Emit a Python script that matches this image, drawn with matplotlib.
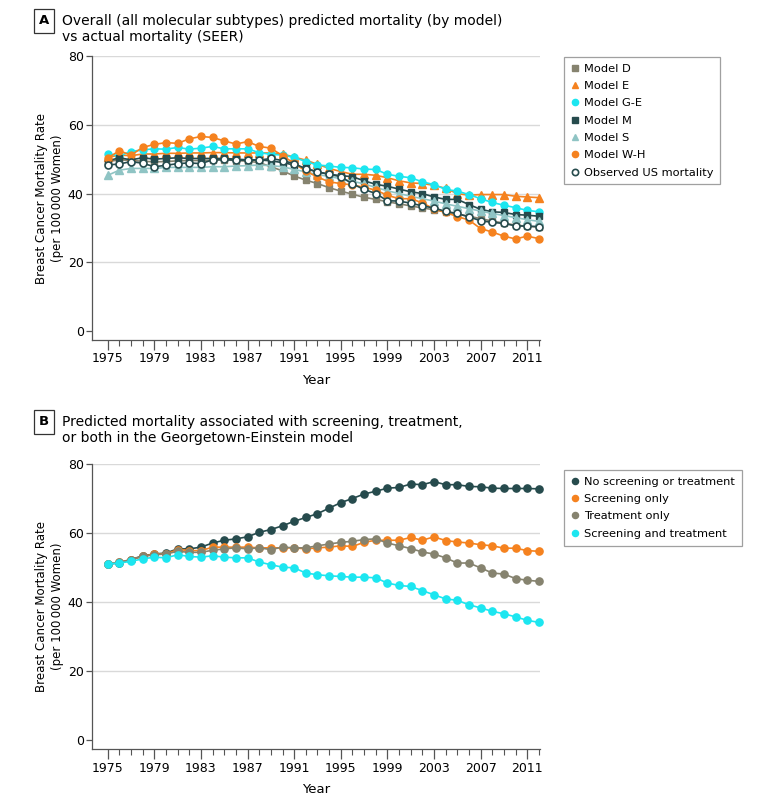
import numpy as np
import matplotlib
matplotlib.use("Agg")
import matplotlib.pyplot as plt
from matplotlib.ticker import FixedLocator

plt.rcParams['font.family'] = ['Liberation Sans Narrow', 'DejaVu Sans']

years = list(range(1975, 2013))

# Panel A: predicted mortality by model vs observed (per 100 000 women)
model_d = [49.3, 49.8, 49.6, 49.4, 49.2, 49.3, 49.5, 49.6, 49.6, 49.7, 49.8, 49.6, 49.4, 49.0,
           47.8, 46.6, 45.1, 43.9, 42.9, 41.7, 40.7, 39.8, 38.9, 38.3, 37.6, 37.0, 36.4, 35.8,
           35.3, 34.6, 34.0, 33.4, 32.7, 32.0, 31.4, 30.8, 30.5, 30.2]
model_e = [50.5, 51.2, 51.0, 51.5, 51.5, 51.7, 51.7, 51.8, 51.8, 51.9, 51.9, 51.8, 51.8, 51.8,
           51.8, 51.5, 50.6, 49.7, 48.5, 47.3, 46.4, 45.6, 45.6, 45.3, 44.6, 43.7, 43.1, 42.9,
           42.4, 41.5, 40.0, 39.5, 39.7, 39.7, 39.7, 39.2, 39.0, 38.8]
model_ge = [51.5, 51.0, 52.2, 52.7, 53.0, 52.9, 53.4, 52.9, 53.2, 53.7, 53.0, 53.0, 53.0, 51.9,
            51.4, 51.2, 50.5, 49.3, 48.3, 48.0, 47.6, 47.5, 47.1, 47.0, 45.6, 45.0, 44.6, 43.4,
            42.6, 41.2, 40.7, 39.7, 38.5, 37.4, 36.6, 35.9, 35.1, 34.7]
model_m = [49.5, 50.4, 49.8, 50.4, 50.0, 50.2, 50.4, 50.2, 50.2, 50.2, 50.2, 50.0, 49.8, 49.8,
           49.5, 49.0, 48.3, 47.3, 46.3, 45.6, 45.2, 44.9, 43.7, 42.7, 42.1, 41.3, 40.5, 40.0,
           39.0, 38.3, 38.3, 36.8, 35.4, 34.7, 34.5, 33.9, 33.7, 33.4]
model_s = [45.3, 46.8, 47.3, 47.3, 47.3, 47.6, 47.6, 47.6, 47.6, 47.8, 47.8, 48.0, 48.1, 48.3,
           48.1, 47.8, 47.0, 46.3, 45.5, 45.0, 44.3, 43.6, 42.8, 41.8, 40.8, 40.0, 39.2, 38.5,
           37.8, 37.0, 36.3, 35.6, 34.9, 34.2, 33.6, 33.0, 32.4, 31.9]
model_wh = [50.4, 52.4, 51.2, 53.4, 54.3, 54.8, 54.6, 55.9, 56.6, 56.3, 55.3, 54.4, 55.1, 53.7,
            53.2, 51.0, 48.8, 46.5, 44.8, 43.4, 42.9, 42.5, 41.8, 41.0, 39.5, 38.5, 38.5, 37.3,
            35.5, 34.5, 33.3, 32.3, 29.8, 28.8, 27.6, 26.8, 27.6, 26.9]
observed = [48.3, 48.6, 49.3, 48.8, 47.8, 48.2, 48.7, 48.9, 48.7, 49.8, 49.9, 49.7, 49.7, 49.7,
            50.2, 49.6, 48.7, 47.2, 46.3, 45.6, 44.9, 42.8, 41.2, 40.0, 37.9, 37.8, 37.2, 36.4,
            35.8, 34.8, 34.2, 33.2, 32.1, 31.6, 31.3, 30.6, 30.5, 30.4]

# Panel B: Georgetown-Einstein model scenarios
no_screen_treat = [51.0, 51.3, 52.3, 53.4, 53.9, 54.2, 55.4, 55.4, 55.9, 57.1, 57.9, 58.3, 58.9,
                   60.2, 61.0, 62.1, 63.4, 64.5, 65.6, 67.2, 68.8, 70.0, 71.3, 72.1, 73.0, 73.2,
                   74.2, 74.0, 74.9, 74.0, 74.0, 73.5, 73.4, 73.0, 72.9, 72.9, 72.9, 72.8]
screen_only = [51.0, 51.5, 52.3, 53.2, 53.9, 53.9, 55.2, 54.9, 54.9, 55.9, 55.9, 55.9, 55.9,
               55.7, 55.7, 55.7, 55.7, 55.4, 55.7, 55.9, 56.3, 56.1, 57.3, 57.9, 57.9, 57.9,
               58.7, 57.9, 58.9, 57.8, 57.4, 57.1, 56.6, 56.3, 55.6, 55.6, 54.9, 54.7]
treat_only = [51.0, 51.5, 52.3, 53.2, 53.7, 53.9, 54.7, 54.4, 54.4, 55.0, 55.4, 55.7, 55.4,
              55.7, 55.2, 55.9, 55.7, 55.7, 56.3, 56.8, 57.3, 57.6, 58.1, 58.3, 57.1, 56.3,
              55.5, 54.5, 53.9, 52.8, 51.3, 51.3, 49.9, 48.4, 48.1, 46.8, 46.3, 46.0]
screen_and_treat = [51.0, 51.3, 51.8, 52.5, 53.0, 52.8, 53.7, 53.2, 53.0, 53.4, 53.0, 52.8, 52.8,
                    51.6, 50.8, 50.1, 49.9, 48.4, 47.9, 47.6, 47.4, 47.2, 47.2, 47.0, 45.5, 44.8,
                    44.5, 43.3, 42.1, 40.9, 40.5, 39.2, 38.3, 37.3, 36.6, 35.7, 34.7, 34.1]

DARK = "#264b4d"
ORANGE = "#f5821f"
CYAN = "#1ce6f0"
GRAY = "#86836f"
TEAL = "#8fc4c4"


def style_axes(ax):
    ax.set_xlim(1973.65, 2012.1)
    ax.set_ylim(-2.6, 80)
    ax.spines['top'].set_visible(False)
    ax.spines['right'].set_visible(False)
    for s in ('left', 'bottom'):
        ax.spines[s].set_color("#555555")
        ax.spines[s].set_linewidth(0.9)
    ax.xaxis.set_major_locator(FixedLocator(list(range(1975, 2012, 4))))
    ax.xaxis.set_minor_locator(FixedLocator(years))
    ax.yaxis.set_major_locator(FixedLocator([0, 20, 40, 60, 80]))
    ax.tick_params(axis='x', which='major', length=7, width=0.9, color="#555555", labelsize=9, pad=2)
    ax.tick_params(axis='x', which='minor', length=4, width=0.8, color="#555555")
    ax.tick_params(axis='y', which='major', length=4, width=0.9, color="#555555", labelsize=9, pad=2)
    for g in (20, 40, 60, 80):
        ax.axhline(g, color="#d9d9d9", lw=1.0, zorder=0)
    ax.set_xlabel("Year", fontsize=9.5, labelpad=6)
    ax.set_ylabel("Breast Cancer Mortality Rate\n(per 100\u2009000 Women)", fontsize=8.5, labelpad=3,
                  linespacing=1.2)


def panel_title(fig, ytop, letter, text):
    fig.text(44 / 780, 1 - (ytop + 9) / 809, letter, fontsize=9.5, fontweight='bold',
             ha='center', va='center',
             bbox=dict(boxstyle='square,pad=0.4', fc='white', ec='#333333', lw=0.9))
    fig.text(62 / 780, 1 - (ytop + 1.5) / 809, text, fontsize=10, ha='left', va='top',
             linespacing=1.2)


def finish_legend(leg):
    leg.get_frame().set_linewidth(0.9)
    for line in leg.get_lines():
        line.set_linestyle('None')


leg_kw = dict(loc='upper left', fontsize=8.2, frameon=True, fancybox=False,
              edgecolor="#888888", handlelength=0.7, handletextpad=0.45,
              labelspacing=0.64, borderpad=0.6, borderaxespad=0)

fig = plt.figure(figsize=(7.8, 8.09), dpi=100)

# ---- Panel A
axA = fig.add_axes([92 / 780, 1 - 340 / 809, 448 / 780, 284 / 809])
style_axes(axA)
lw = 1.2
axA.plot(years, model_d, color=GRAY, marker='s', ms=4.5, lw=lw, label="Model D", clip_on=False)
axA.plot(years, model_e, color=ORANGE, marker='^', ms=5.5, lw=lw, label="Model E", clip_on=False)
axA.plot(years, model_ge, color=CYAN, marker='o', ms=5, lw=lw, label="Model G-E", clip_on=False)
axA.plot(years, model_m, color=DARK, marker='s', ms=4.5, lw=lw, label="Model M", clip_on=False)
axA.plot(years, model_s, color=TEAL, marker='^', ms=5.5, lw=lw, label="Model S", clip_on=False)
axA.plot(years, model_wh, color=ORANGE, marker='o', ms=5, lw=lw, label="Model W-H", clip_on=False)
axA.plot(years, observed, color=DARK, marker='o', ms=5, mfc='white', mec=DARK, mew=1.2,
         lw=lw, label="Observed US mortality", clip_on=False)
legA = fig.legend(*axA.get_legend_handles_labels(),
                  bbox_to_anchor=(564 / 780, 1 - 57 / 809), markerscale=0.9, **leg_kw)
finish_legend(legA)

panel_title(fig, 12, "A", "Overall (all molecular subtypes) predicted mortality (by model)\nvs actual mortality (SEER)")

# ---- Panel B
axB = fig.add_axes([92 / 780, 1 - 749 / 809, 448 / 780, 285 / 809])
style_axes(axB)
axB.plot(years, no_screen_treat, color=DARK, marker='o', ms=5.2, lw=lw,
         label="No screening or treatment", clip_on=False)
axB.plot(years, screen_only, color=ORANGE, marker='o', ms=5.2, lw=lw,
         label="Screening only", clip_on=False)
axB.plot(years, treat_only, color=GRAY, marker='o', ms=5.2, lw=lw,
         label="Treatment only", clip_on=False)
axB.plot(years, screen_and_treat, color=CYAN, marker='o', ms=5.2, lw=lw,
         label="Screening and treatment", clip_on=False)
legB = fig.legend(*axB.get_legend_handles_labels(),
                  bbox_to_anchor=(564 / 780, 1 - 470 / 809), markerscale=0.85, **leg_kw)
finish_legend(legB)

panel_title(fig, 413, "B", "Predicted mortality associated with screening, treatment,\nor both in the Georgetown-Einstein model")

fig.savefig("out.png", dpi=100, facecolor='white')
